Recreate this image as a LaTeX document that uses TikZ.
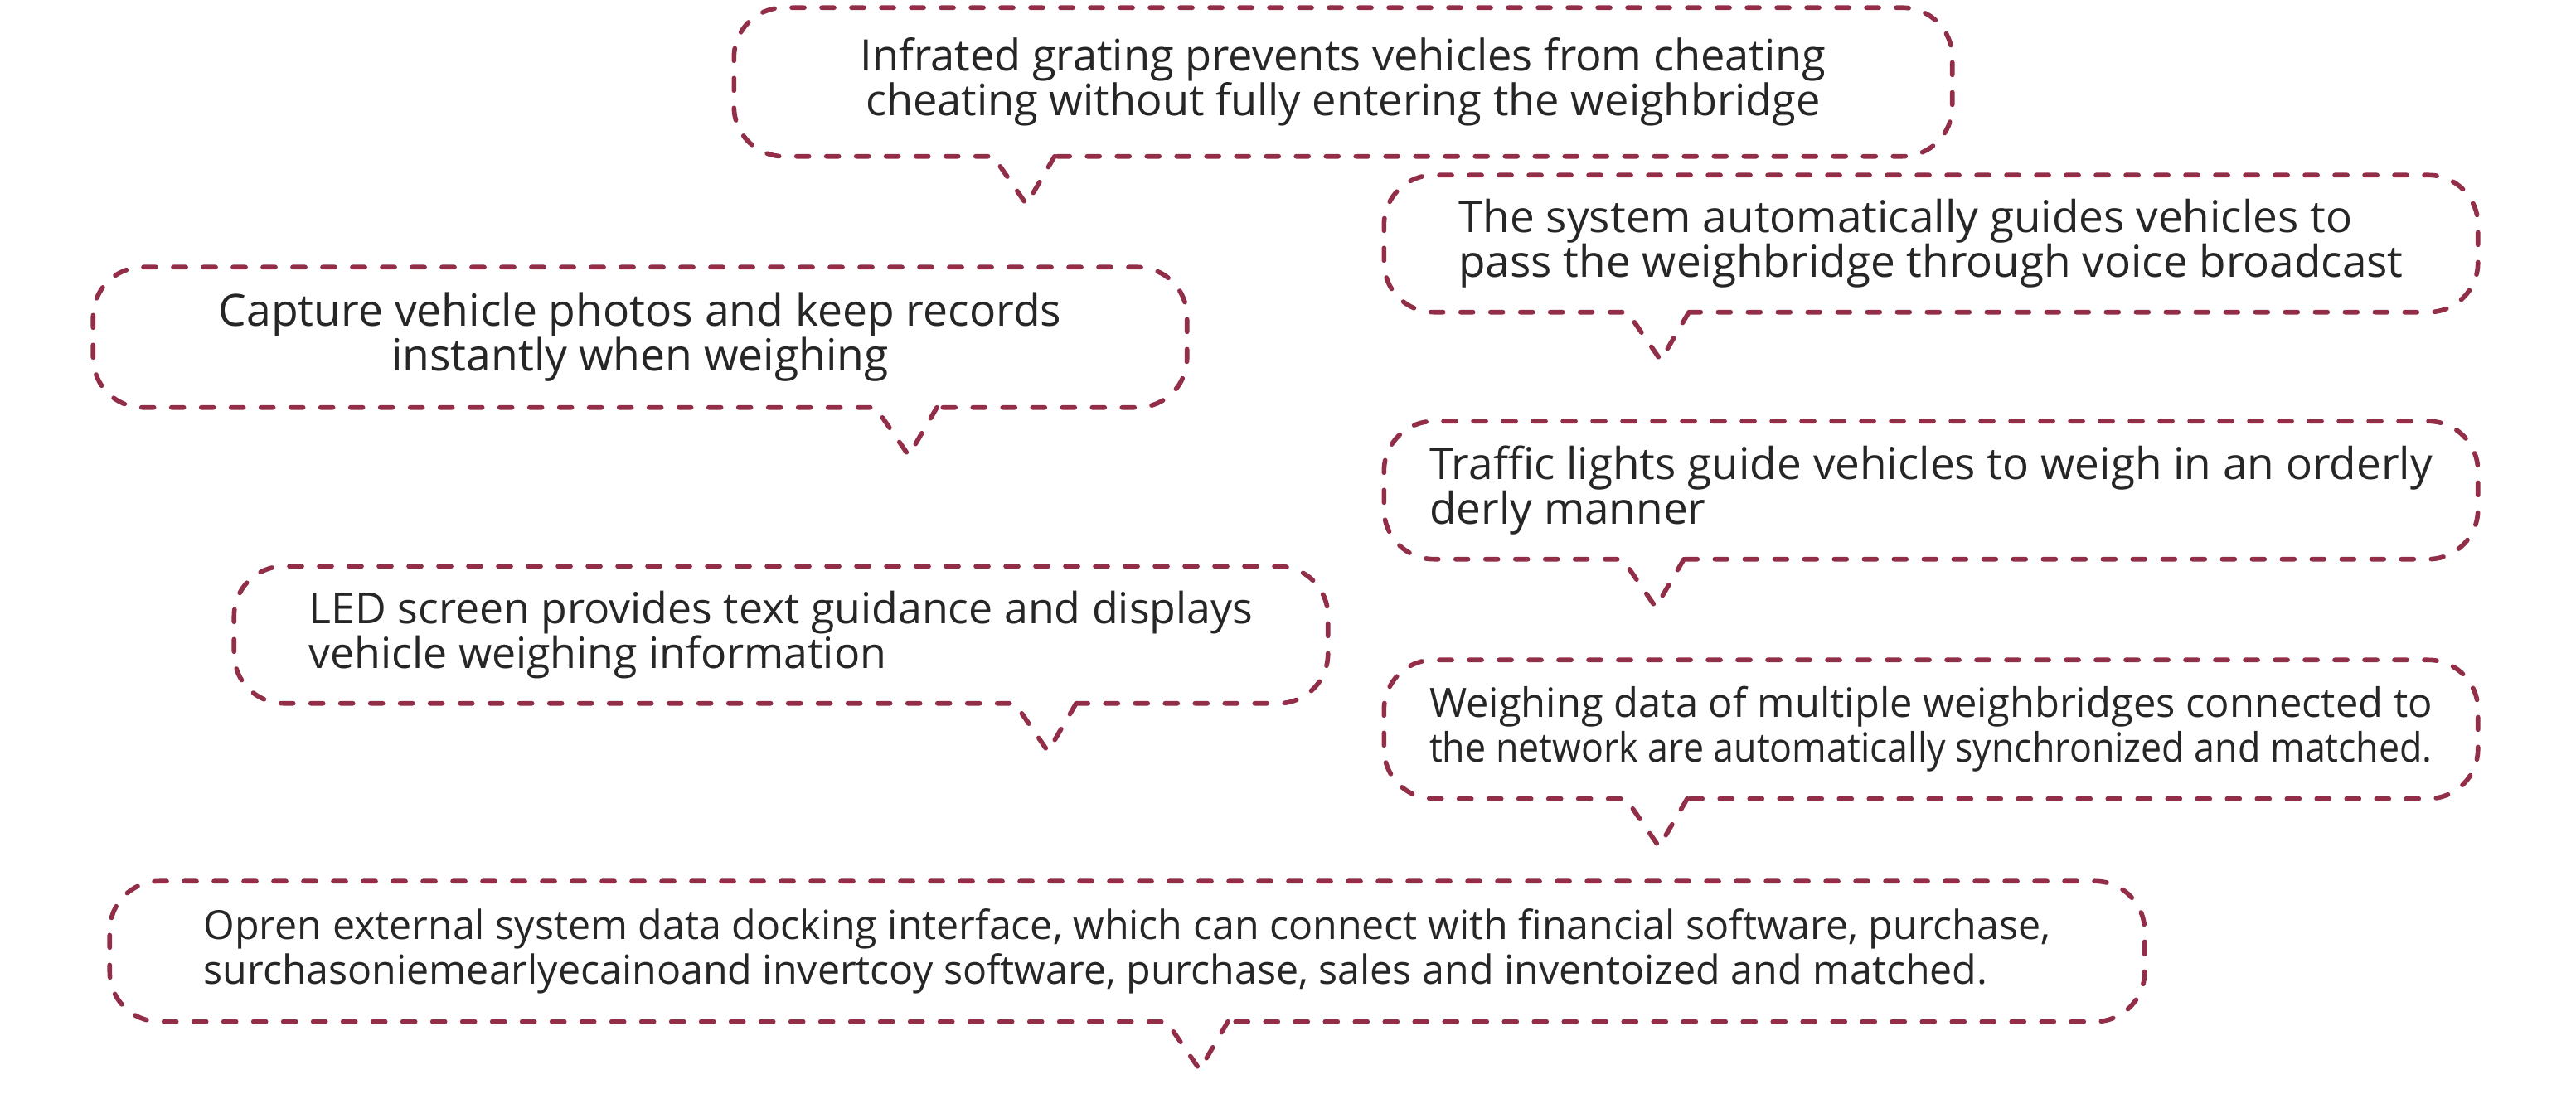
\documentclass[tikz,border=0pt]{standalone}
\usepackage{fontspec}
\setmainfont{Open Sans}
\usepackage{tikz}
\usetikzlibrary{calc, positioning}

\definecolor{bubblered}{RGB}{146,46,72}
\definecolor{bubbletext}{RGB}{38,38,38}

% outline of a speech bubble below node #1, tail tip shifted by #2
\newcommand{\speech}[2]{%
  \draw[bubbleline] ($(#1.south)+(#2+0.34,0)$) -- ($(#1.south)+(#2,-0.58)$)
    -- ($(#1.south)+(#2-0.4,0)$) [rounded corners=0.6cm]
    -- (#1.south west) -- (#1.north west) -- (#1.north east) -- (#1.south east)
    -- ($(#1.south)+(#2+0.34,0)$);}

\begin{document}
\begin{tikzpicture}

\tikzset{bubble/.style = {inner sep=0pt, text=bubbletext, align=left,
  execute at begin node={\rule{0pt}{18pt}}}}
\tikzset{bubbleline/.style = {draw=bubblered, line width=1.6pt, line cap=round,
  dash pattern=on 0.15cm off 0.21cm}}
\newcommand{\fsize}[1]{\fontsize{#1}{15.4}\selectfont}

\useasboundingbox (0,0) rectangle (31.07,-13.49);

% bubbles
\node[bubble, align=center, font=\fsize{14.9}, minimum width=14.68cm, minimum height=1.78cm] (grating) at (16.20,-0.99)
  {Infrated grating prevents vehicles from cheating\\cheating without fully entering the weighbridge};
\node[bubble, font=\fsize{15.1}, minimum width=13.18cm, minimum height=1.64cm] (voice) at (23.29,-2.94)
  {The system automatically guides vehicles to\\pass the weighbridge through voice broadcast};
\node[bubble, align=center, font=\fsize{15.2}, minimum width=13.18cm, minimum height=1.68cm] (photo) at (7.72,-4.07)
  {Capture vehicle photos and keep records\\instantly when weighing};
\node[bubble, font=\fsize{15.1}, minimum width=13.18cm, minimum height=1.65cm] (lights) at (23.29,-5.915)
  {Traffic lights guide vehicles to weigh in an orderly\\derly manner};
\node[bubble, font=\fsize{14.75}, minimum width=13.18cm, minimum height=1.64cm] (led) at (9.42,-7.66)
  {LED screen provides text guidance and displays\\vehicle weighing information};
\node[bubble, font=\fsize{13.9}, minimum width=13.18cm, minimum height=1.66cm] (sync) at (23.29,-8.80)
  {Weighing data of multiple weighbridges connected to\\\scalebox{0.916}[1]{the network are automatically synchronized and matched.}};
\node[bubble, font=\fsize{13.75}, minimum width=24.53cm, minimum height=1.68cm] (dock) at (13.595,-11.48)
  {Opren external system data docking interface, which can connect with financial software, purchase,\\surchasoniemearlyecainoand invertcoy software, purchase, sales and inventoized and matched.};

% outlines
\speech{grating}{-3.82}
\speech{voice}{-3.26}
\speech{photo}{3.24}
\speech{lights}{-3.32}
\speech{led}{3.22}
\speech{sync}{-3.28}
\speech{dock}{0.875}

\end{tikzpicture}
\end{document}
